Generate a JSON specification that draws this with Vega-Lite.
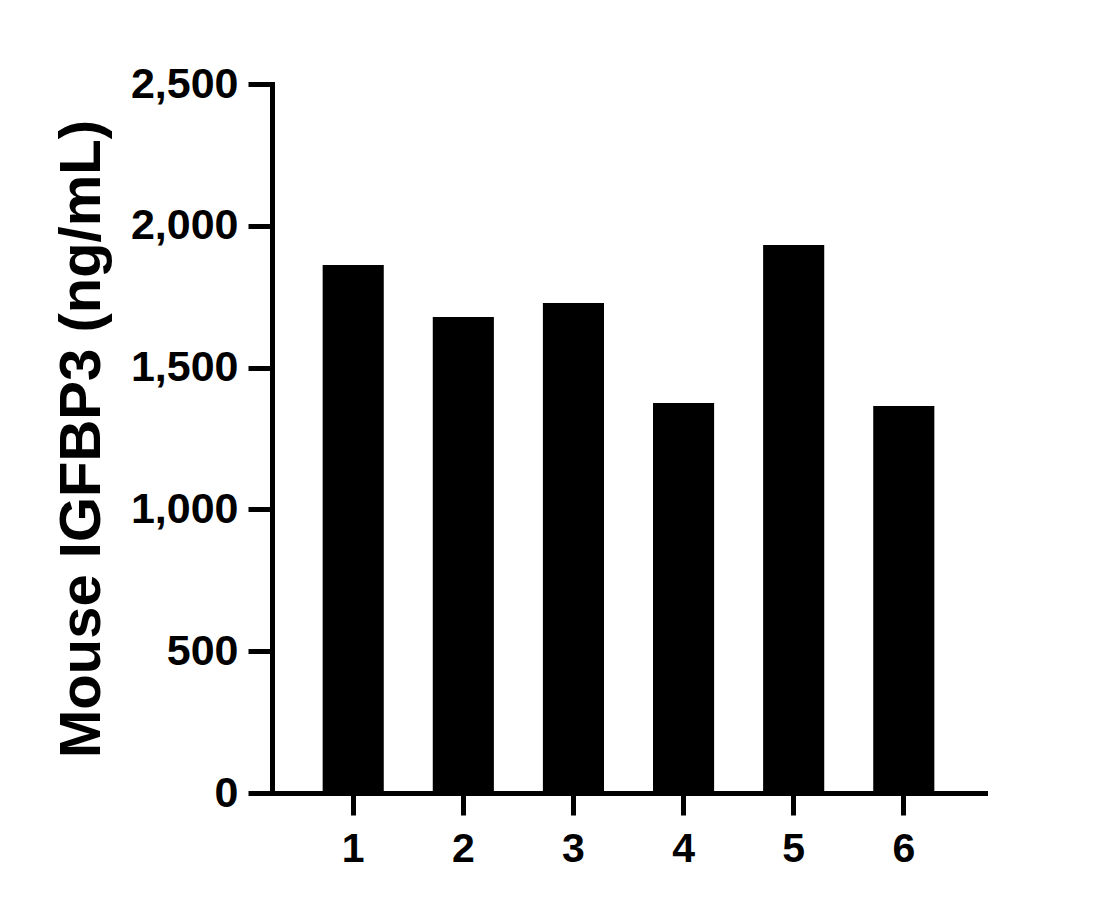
{
  "$schema": "https://vega.github.io/schema/vega-lite/v6.json",
  "width": 713,
  "height": 709,
  "autosize": {"type": "none"},
  "padding": {"left": 272, "top": 84, "right": 135, "bottom": 116},
  "background": "white",
  "data": {
    "values": [
      {"sample": "1", "value": 1862},
      {"sample": "2", "value": 1678},
      {"sample": "3", "value": 1728},
      {"sample": "4", "value": 1375},
      {"sample": "5", "value": 1932},
      {"sample": "6", "value": 1365}
    ]
  },
  "config": {
    "view": {"stroke": null},
    "font": "Liberation Sans"
  },
  "mark": {"type": "bar", "color": "black"},
  "encoding": {
    "x": {
      "field": "sample",
      "type": "nominal",
      "title": null,
      "scale": {"paddingInner": 0.445, "paddingOuter": 0.46},
      "axis": {
        "labelAngle": 0,
        "labelFont": "Liberation Sans",
        "labelFontWeight": "bold",
        "labelFontSize": 41,
        "labelColor": "black",
        "labelPadding": 14,
        "domainColor": "black",
        "domainWidth": 5,
        "domainCap": "square",
        "tickColor": "black",
        "tickWidth": 5,
        "tickSize": 22
      }
    },
    "y": {
      "field": "value",
      "type": "quantitative",
      "title": "Mouse IGFBP3 (ng/mL)",
      "scale": {"domain": [0, 2500], "nice": false},
      "axis": {
        "values": [0, 500, 1000, 1500, 2000, 2500],
        "format": ",d",
        "grid": false,
        "labelFont": "Liberation Sans",
        "labelFontWeight": "bold",
        "labelFontSize": 43,
        "labelColor": "black",
        "labelPadding": 10,
        "domainColor": "black",
        "domainWidth": 5,
        "domainCap": "square",
        "tickColor": "black",
        "tickWidth": 5,
        "tickSize": 24,
        "titleFont": "Liberation Sans",
        "titleFontWeight": "bold",
        "titleFontSize": 58,
        "titleColor": "black",
        "titlePadding": 19
      }
    }
  }
}
